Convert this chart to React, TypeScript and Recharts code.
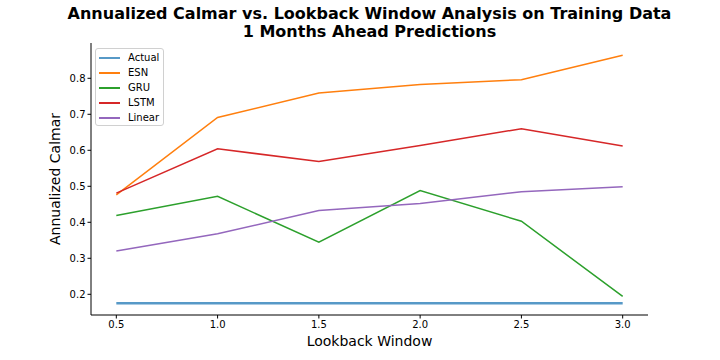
import React from 'react';
import { LineChart, Line, XAxis, YAxis } from 'recharts';

const lookback = [0.5, 1.0, 1.5, 2.0, 2.5, 3.0];
const actual = [0.175, 0.175, 0.175, 0.175, 0.175, 0.175];
const esn = [0.476, 0.691, 0.759, 0.783, 0.796, 0.864];
const gru = [0.419, 0.472, 0.345, 0.488, 0.403, 0.194];
const lstm = [0.481, 0.604, 0.569, 0.613, 0.660, 0.612];
const linear = [0.320, 0.368, 0.433, 0.452, 0.485, 0.499];
const xTicks = [0.5, 1.0, 1.5, 2.0, 2.5, 3.0];
const yTicks = [0.2, 0.3, 0.4, 0.5, 0.6, 0.7, 0.8];

const data = lookback.map((x, i) => ({
  x,
  Actual: actual[i],
  ESN: esn[i],
  GRU: gru[i],
  LSTM: lstm[i],
  Linear: linear[i],
}));

const FONT = '"DejaVu Sans", sans-serif';

const series = [
  { key: 'Actual', color: '#1f77b4', width: 2.5, opacity: 0.75 },
  { key: 'ESN', color: '#ff7f0e', width: 1.5, opacity: 1 },
  { key: 'GRU', color: '#2ca02c', width: 1.5, opacity: 1 },
  { key: 'LSTM', color: '#d62728', width: 1.5, opacity: 1 },
  { key: 'Linear', color: '#9467bd', width: 1.5, opacity: 1 },
];

const LegendBox = () => (
  <div
    style={{
      position: 'absolute',
      left: 95,
      top: 48,
      boxSizing: 'border-box',
      width: 69,
      height: 78,
      border: '1px solid #d0d0d0',
      borderRadius: 3,
      background: 'rgba(255,255,255,0.8)',
      padding: '1px 0 0 3px',
      fontFamily: FONT,
      fontSize: 10,
      color: '#000',
    }}
  >
    {series.map((s) => (
      <div key={s.key} style={{ display: 'flex', alignItems: 'center', height: 15, whiteSpace: 'nowrap' }}>
        <div
          style={{
            width: 21,
            height: 0,
            borderTop: `2px solid ${s.color}`,
            opacity: s.opacity,
            marginRight: 8,
            flexShrink: 0,
          }}
        />
        <span>{s.key}</span>
      </div>
    ))}
  </div>
);

export default function App() {
  return (
    <div style={{ position: 'absolute', left: 0, top: 0, width: 720, height: 360, background: '#fff', fontFamily: FONT }}>
      <div
        style={{
          position: 'absolute',
          left: 0,
          width: 739,
          top: 5,
          textAlign: 'center',
          fontWeight: 'bold',
          fontSize: 16,
          lineHeight: '18px',
          color: '#000',
        }}
      >
        <div>Annualized Calmar vs. Lookback Window Analysis on Training Data</div>
        <div>1 Months Ahead Predictions</div>
      </div>
      <div
        style={{
          position: 'absolute',
          left: 0,
          width: 739,
          top: 333,
          textAlign: 'center',
          fontSize: 14,
          color: '#000',
        }}
      >
        Lookback Window
      </div>
      <div
        style={{
          position: 'absolute',
          left: 55 - 100,
          top: 179 - 9,
          width: 200,
          textAlign: 'center',
          fontSize: 14,
          lineHeight: '18px',
          color: '#000',
          transform: 'rotate(-90deg)',
        }}
      >
        Annualized Calmar
      </div>
      <LineChart
        width={720}
        height={360}
        data={data}
        margin={{ top: 43, right: 72, bottom: 0, left: 0 }}
      >
        <XAxis
          dataKey="x"
          type="number"
          domain={[0.375, 3.125]}
          ticks={xTicks}
          tickFormatter={(v: number) => v.toFixed(1)}
          height={45}
          stroke="#000"
          tickSize={3.5}
          tick={{ fontSize: 10, fill: '#000', fontFamily: FONT }}
          allowDataOverflow
        />
        <YAxis
          type="number"
          domain={[0.1425, 0.898]}
          ticks={yTicks}
          tickFormatter={(v: number) => v.toFixed(1)}
          width={91}
          stroke="#000"
          tickSize={3.5}
          tick={{ fontSize: 10, fill: '#000', fontFamily: FONT }}
          allowDataOverflow
        />
        {series.map((s) => (
          <Line
            key={s.key}
            dataKey={s.key}
            stroke={s.color}
            strokeWidth={s.width}
            strokeOpacity={s.opacity}
            dot={false}
            activeDot={false}
            type="linear"
            isAnimationActive={false}
          />
        ))}
      </LineChart>
      <LegendBox />
    </div>
  );
}
